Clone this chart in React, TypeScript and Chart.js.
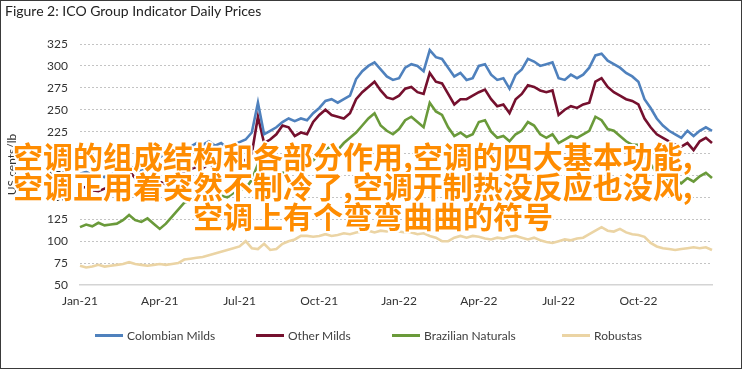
import React, { useEffect, useRef } from 'react';
import { Chart, registerables } from 'chart.js';

Chart.register(...registerables);

// Weekly samples, first week starting Monday 4 Jan 2021
const START_YEAR = 2021;
const START_MONTH = 0;
const START_DAY = 4;
const WEEK_COUNT = 104;

const colombianMilds = [
  177, 179, 176, 175, 173, 176, 179, 183, 186, 182, 180, 185, 190,
  196, 200, 203, 198, 204, 208, 212, 210, 214, 209, 212, 206, 210,
  213, 216, 224, 258, 222, 226, 230, 236, 240, 237, 240, 238, 246,
  252, 260, 262, 258, 262, 266, 285, 294, 300, 304, 296, 288, 284,
  286, 298, 302, 300, 294, 318, 310, 308, 298, 288, 292, 284, 286,
  300, 302, 290, 284, 286, 274, 290, 296, 308, 305, 300, 302, 304,
  286, 284, 290, 286, 290, 298, 312, 314, 306, 302, 298, 292, 288,
  282, 262, 252, 240, 232, 226, 222, 218, 226, 220, 226, 230, 226,
];

const otherMilds = [
  160, 162, 158, 157, 160, 163, 165, 172, 180, 172, 168, 170, 172,
  168, 165, 170, 175, 178, 182, 185, 183, 188, 185, 190, 186, 188,
  190, 193, 200, 242, 212, 216, 222, 232, 230, 220, 224, 222, 236,
  244, 250, 244, 242, 240, 246, 262, 270, 276, 282, 272, 264, 262,
  266, 274, 276, 270, 268, 292, 282, 280, 268, 256, 262, 262, 266,
  270, 273, 262, 254, 256, 246, 262, 268, 278, 276, 272, 270, 272,
  244, 250, 254, 252, 256, 258, 282, 286, 276, 270, 266, 262, 260,
  256, 240, 230, 222, 218, 214, 210, 208, 212, 204, 214, 218, 212,
];

const brazilianNaturals = [
  116, 119, 117, 121, 118, 119, 120, 124, 130, 124, 122, 126, 120,
  114, 120, 128, 136, 144, 146, 150, 148, 147, 150, 152, 150, 155,
  158, 160, 170, 188, 170, 168, 172, 178, 180, 184, 180, 188, 192,
  200, 205, 208, 204, 212, 218, 224, 232, 240, 246, 232, 226, 222,
  228, 238, 242, 236, 230, 258, 248, 244, 230, 220, 224, 219, 222,
  236, 238, 225, 218, 220, 214, 222, 226, 236, 232, 222, 218, 222,
  212, 216, 220, 218, 222, 226, 242, 238, 228, 226, 220, 214, 210,
  210, 196, 188, 178, 172, 168, 170, 166, 172, 168, 174, 178, 172,
];

const robustas = [
  72, 70, 71, 73, 71, 72, 73, 74, 76, 74, 73, 72, 73,
  74, 73, 74, 75, 79, 80, 81, 82, 84, 86, 88, 90, 92,
  94, 100, 92, 91, 97, 90, 91, 97, 100, 102, 106, 106, 105,
  106, 108, 106, 107, 109, 108, 110, 111, 112, 110, 112, 111, 113,
  111, 110, 110, 108, 109, 106, 104, 100, 100, 104, 106, 104, 106,
  105, 103, 102, 104, 103, 105, 106, 104, 102, 104, 101, 99, 98,
  100, 102, 101, 103, 104, 108, 112, 116, 112, 111, 114, 110, 108,
  107, 105, 98, 94, 92, 91, 90, 91, 92, 93, 92, 93, 90,
];

const seriesNames = ['Colombian Milds', 'Other Milds', 'Brazilian Naturals', 'Robustas'];
const seriesValues = [colombianMilds, otherMilds, brazilianNaturals, robustas];
const seriesColors = ['#4F81BD', '#75102E', '#6A9A3A', '#EBD4A4'];

const Y_MIN = 50;
const Y_MAX = 325;
const Y_STEP = 25;
const MONTH_NAMES = ['Jan', 'Feb', 'Mar', 'Apr', 'May', 'Jun', 'Jul', 'Aug', 'Sep', 'Oct', 'Nov', 'Dec'];

const TITLE = 'Figure 2: ICO Group Indicator Daily Prices';
const Y_TITLE = 'US cents/lb';
const OVERLAY_LINES = [
  '空调的组成结构和各部分作用,空调的四大基本功能,',
  '空调正用着突然不制冷了,空调开制热没反应也没风,',
  '空调上有个弯弯曲曲的符号',
];

const weekDates: Date[] = Array.from(
  { length: WEEK_COUNT },
  (_, i) => new Date(Date.UTC(START_YEAR, START_MONTH, START_DAY + 7 * i))
);
const categories = weekDates.map((d) => d.toISOString().slice(0, 10));

function quarterLabel(index: number): string {
  const d = weekDates[index];
  if (!d) return '';
  const m = d.getUTCMonth();
  const prev = weekDates[index - 1];
  const isNewMonth = index === 0 || (prev && prev.getUTCMonth() !== m);
  if (m % 3 === 0 && isNewMonth) {
    return `${MONTH_NAMES[m]}-${String(d.getUTCFullYear()).slice(2)}`;
  }
  return '';
}

const FONT = 'Lato, "Open Sans", sans-serif';

export default function App() {
  const canvasRef = useRef<HTMLCanvasElement | null>(null);

  useEffect(() => {
    document.body.style.margin = '0';
    const canvas = canvasRef.current;
    if (!canvas) return;
    const chart = new Chart(canvas, {
      type: 'line',
      data: {
        labels: categories,
        datasets: seriesNames.map((name, i) => ({
          label: name,
          data: seriesValues[i],
          borderColor: seriesColors[i],
          backgroundColor: seriesColors[i],
          borderWidth: 2.6,
          pointRadius: 0,
          tension: 0,
          fill: false,
        })),
      },
      options: {
        responsive: false,
        animation: false,
        layout: { padding: { left: 5, right: 30, top: 44, bottom: 54 } },
        plugins: {
          legend: { display: false },
          title: { display: false },
          tooltip: { enabled: false },
        },
        scales: {
          x: {
            type: 'category',
            grid: { display: false, drawTicks: false },
            border: { display: true, color: '#d4d4d4', width: 1.5 },
            ticks: {
              autoSkip: false,
              maxRotation: 0,
              minRotation: 0,
              padding: 9,
              color: '#333333',
              font: { family: FONT, size: 12 },
              callback: (_v: any, index: number) => quarterLabel(index),
            },
            afterFit: (scale: any) => {
              scale.height = 30;
            },
          },
          y: {
            min: Y_MIN,
            max: Y_MAX,
            ticks: {
              stepSize: Y_STEP,
              padding: 12,
              color: '#333333',
              font: { family: FONT, size: 12 },
            },
            grid: {
              drawTicks: false,
              lineWidth: 1,
              color: (ctx: any) => (ctx.tick && ctx.tick.value === Y_MIN ? 'rgba(0,0,0,0)' : '#c4c4c4'),
            },
            border: { display: false, dash: [2, 2] },
            title: {
              display: true,
              text: Y_TITLE,
              color: '#333333',
              padding: 0,
              font: { family: FONT, size: 12 },
            },
            afterFit: (scale: any) => {
              scale.width = 75;
            },
          },
        },
      },
    } as any);
    return () => chart.destroy();
  }, []);

  const legendLeft = [95, 256, 392, 562];

  return (
    <div
      style={{
        position: 'fixed',
        left: 0,
        top: 0,
        width: 742,
        height: 369,
        background: '#ffffff',
        overflow: 'hidden',
        fontFamily: FONT,
      }}
    >
      <canvas ref={canvasRef} width={742} height={369} style={{ position: 'absolute', left: 0, top: 0 }} />
      <div
        style={{
          position: 'absolute',
          left: 5,
          top: 1,
          fontSize: 14,
          lineHeight: '20px',
          color: '#222222',
          whiteSpace: 'nowrap',
        }}
      >
        {TITLE}
      </div>
      {seriesNames.map((name, i) => (
        <div
          key={name}
          style={{
            position: 'absolute',
            left: legendLeft[i],
            top: 327,
            height: 16,
            display: 'flex',
            alignItems: 'center',
            whiteSpace: 'nowrap',
            fontSize: 12,
            color: '#404040',
          }}
        >
          <span style={{ display: 'inline-block', width: 28, height: 3, background: seriesColors[i], marginRight: 4 }} />
          <span>{name}</span>
        </div>
      ))}
      <div
        style={{
          position: 'absolute',
          left: 0,
          top: 140,
          width: 742,
          fontFamily: '"Noto Sans CJK SC", sans-serif',
          fontSize: 30,
          fontWeight: 700,
          lineHeight: '30px',
          color: '#FF8C00',
          whiteSpace: 'nowrap',
          textShadow:
            '2px 0 0 #fff, -2px 0 0 #fff, 0 2px 0 #fff, 0 -2px 0 #fff, 1.5px 1.5px 0 #fff, -1.5px 1.5px 0 #fff, 1.5px -1.5px 0 #fff, -1.5px -1.5px 0 #fff',
        }}
      >
        <div style={{ paddingLeft: 13 }}>{OVERLAY_LINES[0]}</div>
        <div style={{ paddingLeft: 13 }}>{OVERLAY_LINES[1]}</div>
        <div style={{ paddingLeft: 193 }}>{OVERLAY_LINES[2]}</div>
      </div>
      <div
        style={{
          position: 'absolute',
          left: 0,
          top: 0,
          width: 742,
          height: 369,
          boxSizing: 'border-box',
          border: '1px solid #3a3a3a',
          pointerEvents: 'none',
        }}
      />
    </div>
  );
}
